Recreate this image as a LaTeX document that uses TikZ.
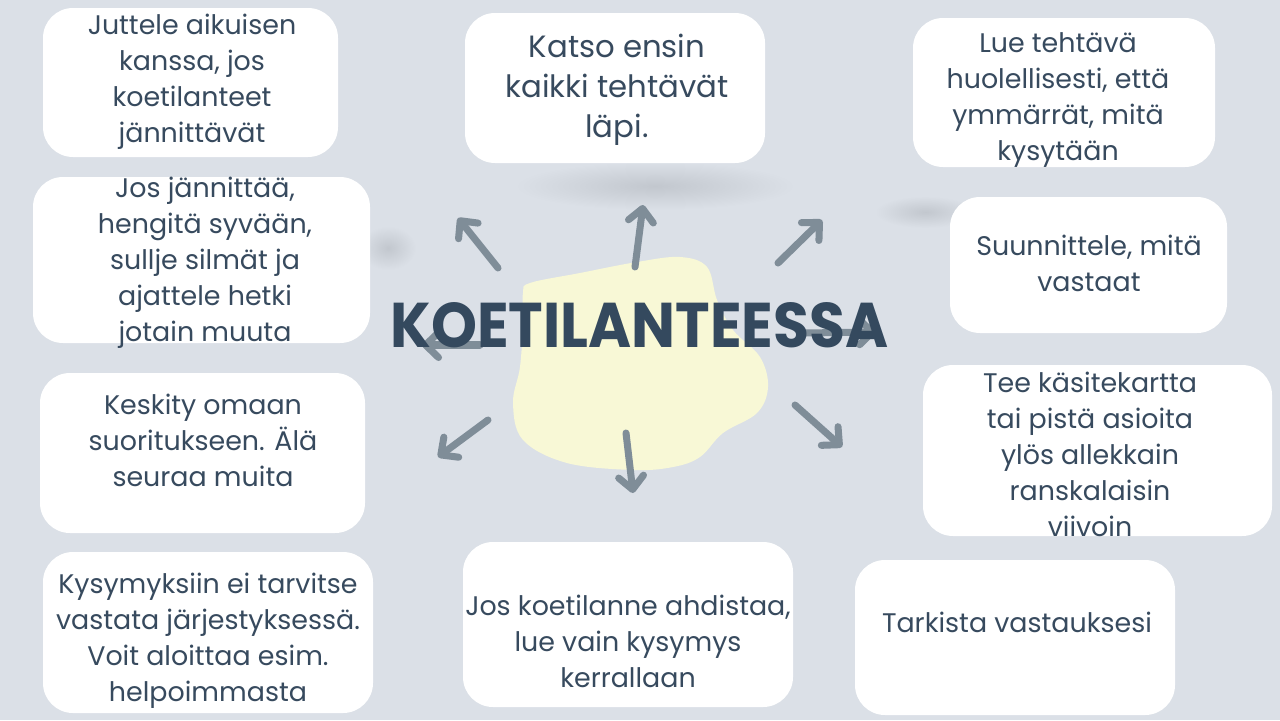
\documentclass[tikz,border=0pt]{standalone}
\usepackage{fontspec}
\usepackage{graphicx}
\setmainfont{Poppins}
\usetikzlibrary{arrows.meta,fit}

\definecolor{bg}{HTML}{DBE0E7}
\definecolor{ink}{HTML}{374A5E}
\definecolor{title}{HTML}{34495E}
\definecolor{ray}{HTML}{7F8D98}
\definecolor{blob}{HTML}{F8F8D6}
\definecolor{shade}{HTML}{C2C7CE}

\begin{document}
\begin{tikzpicture}[x=0.02cm, y=-0.02cm]

    \tikzstyle{card}=[draw=none, fill=white, rounded corners=0.6cm, inner sep=0pt];
    \tikzstyle{txt}=[align=center, text=ink, inner sep=0pt, font=\fontsize{15.3pt}{20.5pt}\selectfont];
    \tikzstyle{ray}=[draw=ray, line width=4pt, line cap=round, -{Straight Barb[length=0.26cm, width=0.5cm, line cap=round, line join=round]}];
    \tikzstyle{fade}=[shading=radial, inner color=shade, outer color=bg];

    \useasboundingbox (0,0) rectangle (1280,720);
    \fill[bg] (0,0) rectangle (1280,720);

    % soft shadows
    \path[fade] (655,186) ellipse (140 and 24);
    \path[fade] (925,212) ellipse (50 and 16);
    \path[fade] (388,248) ellipse (28 and 22);

    % cards
    \node[card, fit={(43,8) (338,157)}] (juttele) {};
    \node[card, fit={(33,177) (370,343)}] (hengita) {};
    \node[card, fit={(465,13) (765,163)}] (katso) {};
    \node[card, fit={(913,18) (1215,167)}] (lue) {};
    \node[card, fit={(950,197) (1227,333)}] (suunnittele) {};
    \node[card, fit={(923,365) (1272,536)}] (kartta) {};
    \node[card, fit={(40,373) (365,533)}] (keskity) {};
    \node[card, fit={(43,552) (373,713)}] (jarjestys) {};
    \node[card, fit={(463,542) (793,707)}] (ahdistaa) {};
    \node[card, fit={(855,560) (1175,715)}] (tarkista) {};

    % centre blob
    \fill[blob] plot[smooth cycle, tension=0.6] coordinates {(530,283) (580,273) (637,262) (680,257) (707,267) (717,300) (733,330) (760,357) (768,387) (757,413) (723,433) (700,457) (673,467) (633,470) (567,463) (523,440) (513,403) (520,367) (523,323) (523,293)};

    \coordinate (nw-s) at (498,268);  \coordinate (nw-e) at (458,218);
    \coordinate (n-s) at (635,267);   \coordinate (n-e) at (643,205);
    \coordinate (ne-s) at (778,263);  \coordinate (ne-e) at (822,220);
    \coordinate (w-s) at (480,345);   \coordinate (w-e) at (422,345);
    \coordinate (e-s) at (805,333);   \coordinate (e-e) at (876,332);
    \coordinate (sw-s) at (488,420);  \coordinate (sw-e) at (438,457);
    \coordinate (s-s) at (626,433);   \coordinate (s-e) at (633,493);
    \coordinate (se-s) at (795,405);  \coordinate (se-e) at (842,447);

    \draw[ray] (nw-s) -- (nw-e);
    \draw[ray] (n-s) -- (n-e);
    \draw[ray] (ne-s) -- (ne-e);
    \draw[ray] (w-s) -- (w-e);
    \draw[ray] (e-s) -- (e-e);
    \draw[ray] (sw-s) -- (sw-e);
    \draw[ray] (s-s) -- (s-e);
    \draw[ray] (se-s) -- (se-e);

    \node[anchor=base west, inner sep=0pt, text=title, font=\bfseries] (otsikko) at (390,347) {\resizebox{9.96cm}{0.9cm}{KOETILANTEESSA}};

    % texts
    \node[txt] (juttele-t) at (192,82) {Juttele aikuisen\\kanssa, jos\\koetilanteet\\jännittävät};
    \node[txt] (hengita-t) at (205,263) {Jos jännittää,\\hengitä syvään,\\sullje silmät ja\\ajattele hetki\\jotain muuta};
    \node[txt, font=\fontsize{17.5pt}{22.7pt}\selectfont] (katso-t) at (617,90) {Katso ensin\\kaikki tehtävät\\läpi.};
    \node[txt] (lue-t) at (1058,100) {Lue tehtävä\\huolellisesti, että\\ymmärrät, mitä\\kysytään};
    \node[txt] (suunnittele-t) at (1089,263) {Suunnittele, mitä\\vastaat};
    \node[txt] (kartta-t) at (1090,454) {Tee käsitekartta\\tai pistä asioita\\ylös allekkain\\ranskalaisin\\viivoin};
    \node[txt] (keskity-t) at (203,440) {Keskity omaan\\suoritukseen. Älä\\seuraa muita};
    \node[txt] (jarjestys-t) at (208,641) {Kysymyksiin ei tarvitse\\vastata järjestyksessä.\\Voit aloittaa esim.\\helpoimmasta};
    \node[txt] (ahdistaa-t) at (628,641) {Jos koetilanne ahdistaa,\\lue vain kysymys\\kerrallaan};
    \node[txt] (tarkista-t) at (1017,622) {Tarkista vastauksesi};

\end{tikzpicture}
\end{document}
